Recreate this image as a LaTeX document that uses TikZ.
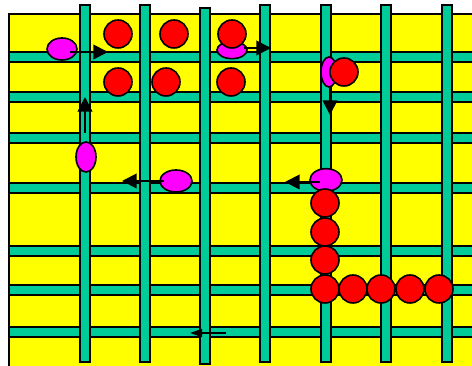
\documentclass[tikz,border=0pt]{standalone}
\usetikzlibrary{arrows.meta,shapes.geometric}
\definecolor{bgyellow}{RGB}{255,255,0}
\definecolor{bargreen}{RGB}{0,204,153}
\definecolor{pinkm}{RGB}{255,0,255}
\definecolor{redb}{RGB}{255,0,0}
\tikzset{
  hbar/.style={fill=bargreen,draw=black,line width=1.05pt},
  vbar/.style={fill=bargreen,draw=black,line width=1.05pt},
  blob/.style={ellipse,fill=pinkm,draw=black,line width=1.2pt,inner sep=0pt},
  ball/.style={circle,fill=redb,draw=black,line width=1.2pt,inner sep=0pt,minimum size=21pt},
  mover/.style={line width=1.4pt,-{Triangle[length=11pt,width=11pt]}},
  smallmover/.style={line width=1.1pt,-{Triangle[length=9pt,width=6pt]}}
}
\begin{document}
\begin{tikzpicture}[x=0.75pt,y=-0.75pt]
\useasboundingbox (0,0) rectangle (472,366);
% background
\fill[bgyellow] (9,14) rectangle (480,370);
\draw[line width=2.2pt] (9,370) -- (9,14) -- (480,14);
% horizontal bars
\foreach \ya/\yb in {52/62,92/102,133/143,183/193,246/256,285/295,327/337}
  \draw[hbar] (9,\ya) rectangle (480,\yb);
% vertical bars
\foreach \xa in {80,140,260,321,381,442}
  \draw[vbar] (\xa,5) rectangle ++(10,357);
\draw[vbar] (200,8) rectangle (210,364);
% pink movers
\node[blob,minimum width=22.5pt,minimum height=16.5pt] (e1) at (62,49) {};
\node[blob,minimum width=22.5pt,minimum height=13pt] (e2) at (232,50) {};
\node[blob,minimum width=12pt,minimum height=22.5pt] (e3) at (329,72) {};
\node[blob,minimum width=15pt,minimum height=22.5pt] (e4) at (86,157) {};
\node[blob,minimum width=24pt,minimum height=16.5pt] (e5) at (176,181) {};
\node[blob,minimum width=24pt,minimum height=17pt] (e6) at (326,180) {};
% red balls
\node[ball] (r1) at (118,34) {};
\node[ball] (r2) at (174,34) {};
\node[ball] (r3) at (232,34) {};
\node[ball] (r4) at (118,82) {};
\node[ball] (r5) at (166,82) {};
\node[ball] (r6) at (231,82) {};
\node[ball] (r7) at (344,72) {};
\node[ball] (c1) at (325,203) {};
\node[ball] (c2) at (325,232) {};
\node[ball] (c3) at (325,260) {};
\node[ball] (c4) at (325,289) {};
\node[ball] (c5) at (353,289) {};
\node[ball] (c6) at (381,289) {};
\node[ball] (c7) at (410,289) {};
\node[ball] (c8) at (439,289) {};
% arrow end points
\coordinate (a1s) at (70,52);  \coordinate (a1e) at (108,52);
\coordinate (a2s) at (244,48); \coordinate (a2e) at (271,48);
\coordinate (a3s) at (330,88); \coordinate (a3e) at (330,115);
\coordinate (a4s) at (85,133); \coordinate (a4e) at (85,97);
\coordinate (a5s) at (164,181); \coordinate (a5e) at (122,181);
\coordinate (a6s) at (320,182); \coordinate (a6e) at (285,182);
\coordinate (a7s) at (226,333); \coordinate (a7e) at (190,333);
\draw[mover] (a1s) -- (a1e);
\draw[mover] (a2s) -- (a2e);
\draw[mover] (a3s) -- (a3e);
\draw[mover] (a4s) -- (a4e);
\draw[mover] (a5s) -- (a5e);
\draw[mover] (a6s) -- (a6e);
\draw[smallmover] (a7s) -- (a7e);
\end{tikzpicture}
\end{document}
